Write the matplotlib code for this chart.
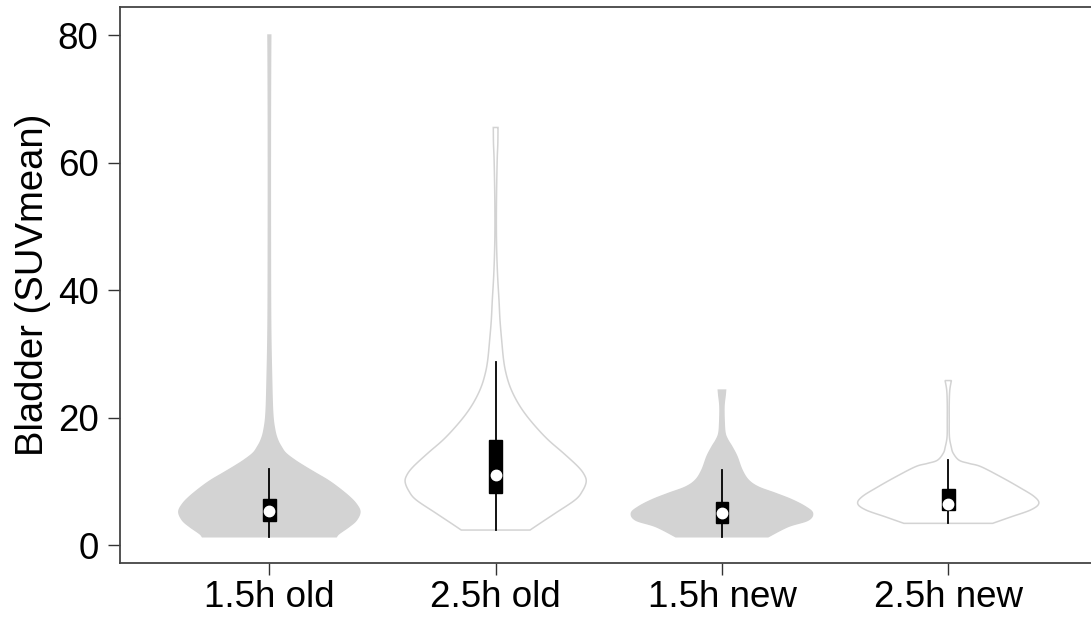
import numpy as np
import matplotlib
matplotlib.use("Agg")
import matplotlib.pyplot as plt
from matplotlib.patches import Rectangle

plt.rcParams['font.family'] = ['Liberation Sans', 'DejaVu Sans']

categories = ["1.5h old", "2.5h old", "1.5h new", "2.5h new"]
fills = ["#d3d3d3", "white", "#d3d3d3", "white"]

# violin profiles: y values and relative density (max = 1)
v1_y = [1.3, 1.8, 2.9, 3.9, 5.2, 6.4, 7.6, 9.1, 10.2, 11.2, 12.3, 13.3, 14.4, 15.4, 16.5, 18.0, 20.6, 25.9, 35, 50, 65, 75, 80]
v1_d = [0.74, 0.77, 0.88, 0.96, 1.0, 0.96, 0.88, 0.75, 0.64, 0.52, 0.39, 0.28, 0.18, 0.13, 0.09, 0.06, 0.037, 0.025, 0.014, 0.011, 0.011, 0.013, 0.015]

v2_y = [2.35, 3.4, 5.0, 7.1, 8.5, 9.9, 11.0, 12.3, 14.4, 16.5, 18.6, 20.7, 22.7, 24.8, 26.9, 29.0, 32.2, 35.3, 38.4, 42.1, 46, 50, 55, 60.4, 63, 65.5]
v2_d = [0.38, 0.49, 0.66, 0.88, 0.96, 1.0, 0.98, 0.91, 0.75, 0.58, 0.44, 0.32, 0.23, 0.16, 0.115, 0.088, 0.066, 0.048, 0.037, 0.022, 0.012, 0.008, 0.01, 0.017, 0.024, 0.026]

v3_y = [1.3, 2.9, 3.9, 5.0, 6.0, 7.1, 8.1, 9.1, 10.2, 11.8, 13.9, 15.4, 16.5, 17.5, 19.1, 21.7, 23.5, 24.3]
v3_d = [0.51, 0.73, 0.95, 1.0, 0.92, 0.77, 0.59, 0.40, 0.29, 0.22, 0.165, 0.11, 0.063, 0.035, 0.025, 0.022, 0.035, 0.04]

v4_y = [3.4, 4.4, 5.5, 6.5, 7.6, 9.1, 10.7, 12.3, 12.8, 13.3, 14.4, 15.4, 17.0, 19.6, 22.2, 24.3, 25.8]
v4_d = [0.49, 0.69, 0.91, 1.0, 0.95, 0.78, 0.58, 0.36, 0.23, 0.12, 0.055, 0.033, 0.013, 0.011, 0.011, 0.017, 0.035]

# box stats: whisker low, q1, median, q3, whisker high
whisk_lo = [1.3, 2.35, 1.3, 3.4]
q1 = [3.8, 8.1, 3.4, 5.5]
med = [5.4, 11.0, 5.1, 6.5]
q3 = [7.2, 16.4, 6.8, 8.8]
whisk_hi = [12.0, 28.7, 11.8, 13.4]

profiles = [(v1_y, v1_d), (v2_y, v2_d), (v3_y, v3_d), (v4_y, v4_d)]


def smooth_curve(y, d, n=12):
    """Catmull-Rom smoothing of the outline through the profile points."""
    y = np.asarray(y, float)
    d = np.asarray(d, float)
    P = np.column_stack([y, d])
    P = np.vstack([P[0], P, P[-1]])
    out = []
    t = np.linspace(0, 1, n, endpoint=False)
    for k in range(1, len(P) - 2):
        p0, p1, p2, p3 = P[k - 1], P[k], P[k + 1], P[k + 2]
        tt = t[:, None]
        seg = 0.5 * ((2 * p1) + (-p0 + p2) * tt + (2 * p0 - 5 * p1 + 4 * p2 - p3) * tt ** 2
                     + (-p0 + 3 * p1 - 3 * p2 + p3) * tt ** 3)
        out.append(seg)
    out.append(P[-2][None, :])
    S = np.vstack(out)
    S[:, 1] = np.clip(S[:, 1], 0.006, None)
    return S[:, 0], S[:, 1]


fig = plt.figure(figsize=(10.91, 6.18), dpi=100)
ax = fig.add_axes([120 / 1091, 55 / 618, 977.6 / 1091, 556 / 618])

half = 0.4
bw = 0.028
for i, (py, pd_) in enumerate(profiles):
    x0 = i + 1
    sy, sd = smooth_curve(py, pd_)
    pdn = sd * half
    xs = np.concatenate([x0 - pdn, (x0 + pdn)[::-1]])
    ys = np.concatenate([sy, sy[::-1]])
    ax.fill(xs, ys, facecolor=fills[i], edgecolor="#d3d3d3", linewidth=1.1, zorder=2)
    ax.plot([x0, x0], [whisk_lo[i], whisk_hi[i]], color="black", linewidth=1.3, zorder=3)
    ax.add_patch(Rectangle((x0 - bw, q1[i]), 2 * bw, q3[i] - q1[i], facecolor="black",
                           edgecolor="black", zorder=4))
    ax.plot([x0], [med[i]], marker="o", markersize=7.5, markerfacecolor="white",
            markeredgecolor="white", linestyle="none", zorder=5)

ax.set_xlim(0.34, 4.66)
ax.set_ylim(-2.82, 84.4)
ax.set_xticks(range(1, 5))
ax.set_xticklabels(categories)
ax.set_yticks([0, 20, 40, 60, 80])
ax.tick_params(axis="both", direction="out", length=8.5, width=1.0, color="#333333",
               labelsize=26.5)
ax.tick_params(axis="y", pad=7)
ax.tick_params(axis="x", pad=4)
for s in ax.spines.values():
    s.set_color("#444444")
    s.set_linewidth(1.3)
ax.set_ylabel("Bladder (SUVmean)", fontsize=27.5, labelpad=5)

fig.savefig("out.png", dpi=100)
